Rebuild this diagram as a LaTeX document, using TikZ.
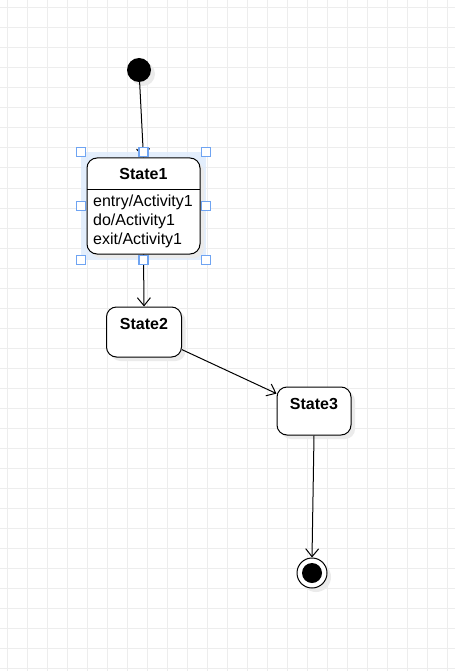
\documentclass[tikz,border=0pt]{standalone}
\usepackage{fontspec}
\setmainfont{Liberation Sans}
\usetikzlibrary{arrows.meta,shadows}

\definecolor{gridgrey}{HTML}{EDEDED}
\definecolor{selblue}{HTML}{DDEAFC}
\definecolor{handleblue}{HTML}{6FA4F2}

\tikzset{
  gridline/.style={draw=gridgrey, line width=1pt},
  shade/.style={general shadow={fill=black!8, shadow xshift=4pt, shadow yshift=-4pt}},
  statebox/.style={draw, fill=white, line width=1pt, rounded corners=10pt, inner sep=0pt, shade},
  title/.style={font=\fontsize{16}{19}\selectfont\bfseries, inner sep=0pt},
  body/.style={font=\fontsize{16}{19}\selectfont, align=left, inner sep=0pt},
  trans/.style={-{Straight Barb[length=8pt,width=13pt]}, line width=1pt},
  handle/.style={draw=handleblue, fill=white, line width=1.2pt, minimum size=9pt, inner sep=0pt},
}

\begin{document}
\begin{tikzpicture}[x=1pt,y=-1pt]
  \useasboundingbox (0,0) rectangle (455,671);
  \fill[white] (0,0) rectangle (455,671);
  \foreach \x in {7,27,...,447} \draw[gridline] (\x,0) -- (\x,671);
  \foreach \y in {8,28,...,668} \draw[gridline] (0,\y) -- (455,\y);

  % selection around State1
  \node[fill=selblue, opacity=0.8, minimum width=125pt, minimum height=108pt, inner sep=0pt] (sel) at (143.5,206) {};

  \node[circle, fill=black, minimum size=24pt, inner sep=0pt, shade] (init) at (139,70) {};

  \node[statebox, minimum width=113pt, minimum height=96pt] (s1) at (143.5,206) {};
  \draw[line width=1pt] (87,189) -- (200,189);
  \node[title] (s1t) at (143.5,174) {State1};
  \node[body, anchor=north west] (s1b) at (93,195) {entry/Activity1\\do/Activity1\\exit/Activity1};

  \node[statebox, minimum width=75pt, minimum height=50pt] (s2) at (144,332) {};
  \node[title] (s2t) at (144,324) {State2};

  \node[statebox, minimum width=74pt, minimum height=48pt] (s3) at (314,411) {};
  \node[title] (s3t) at (314,404) {State3};

  \node[circle, draw, fill=white, line width=1pt, minimum size=30pt, inner sep=0pt, shade,
        path picture={\fill[black] (path picture bounding box.center) circle (10pt);}] (final) at (312,573) {};

  \draw[trans] (init) -- (s1.north);
  \draw[trans] (s1.south) -- (s2.north);
  \draw[trans] (s2) -- (s3);
  \draw[trans] (s3.south) -- (final.north);

  \foreach \a in {north west,north,north east,west,east,south west,south,south east}
    \node[handle] (h-\a) at (sel.\a) {};
\end{tikzpicture}
\end{document}
